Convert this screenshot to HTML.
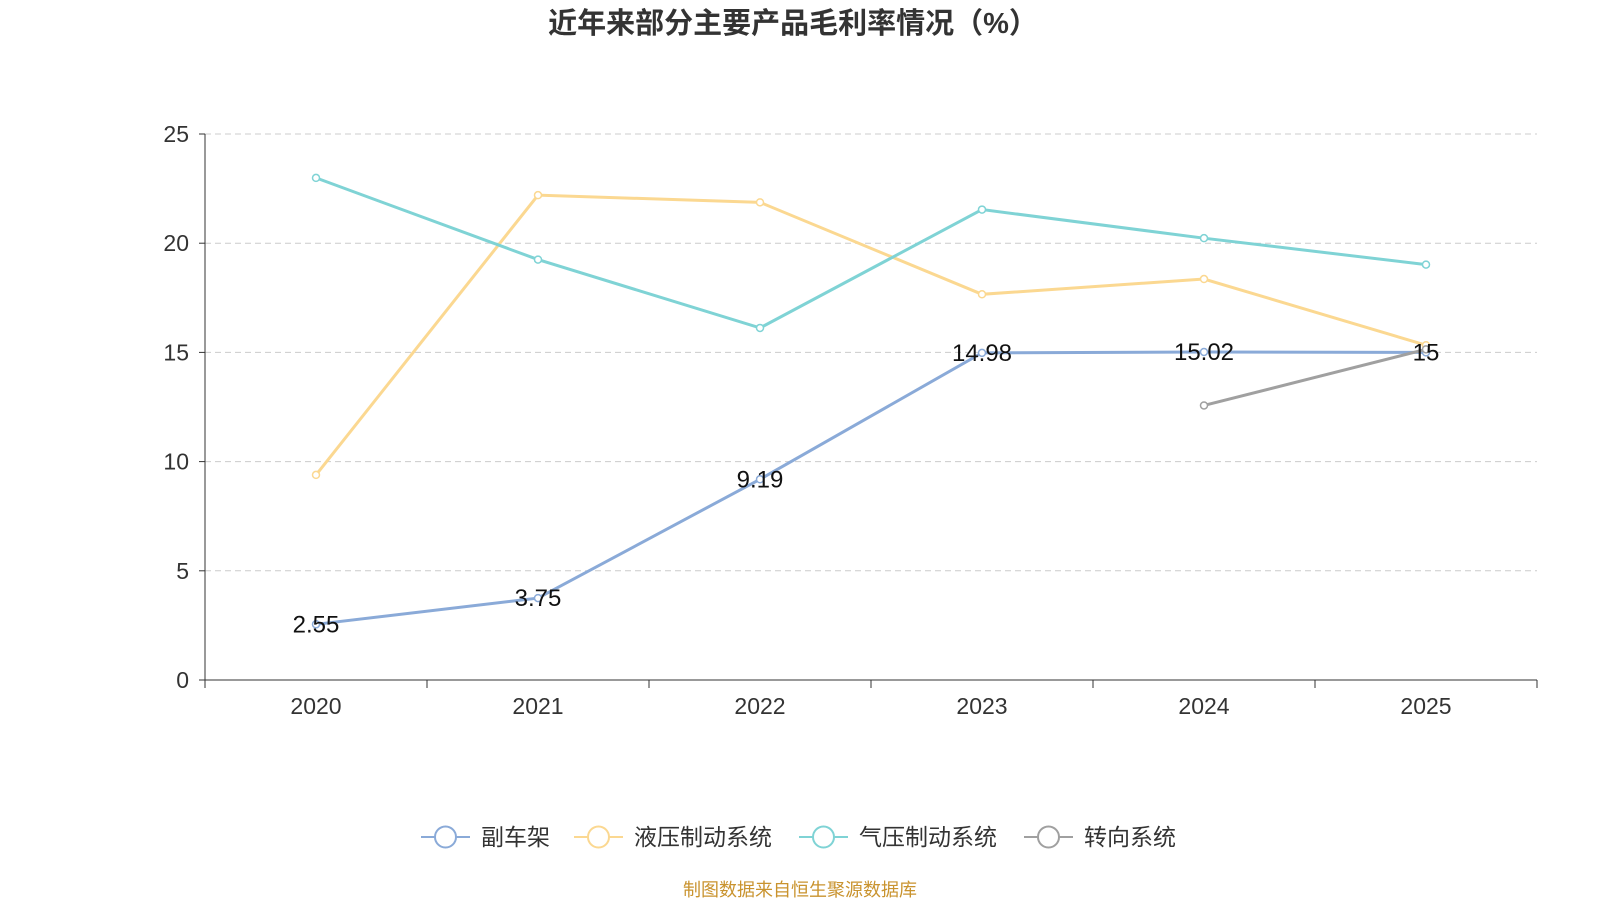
<!DOCTYPE html>
<html><head><meta charset="utf-8"><style>
body{margin:0;background:#fff;width:1600px;height:900px;overflow:hidden;font-family:"Liberation Sans","Noto Sans CJK SC",sans-serif}
</style></head><body>
<svg id="chart" width="1600" height="900" xmlns="http://www.w3.org/2000/svg" font-family="Liberation Sans, Noto Sans CJK SC, sans-serif">
<text x="793" y="33" text-anchor="middle" font-size="29" font-weight="bold" fill="#333">近年来部分主要产品毛利率情况（%）</text>
<g id="grid"></g><g id="axes"></g><g id="series"></g><g id="legend"></g>
<text x="800" y="896" text-anchor="middle" font-size="18" fill="#c9932e">制图数据来自恒生聚源数据库</text>
</svg>
<script>
const categories=["2020","2021","2022","2023","2024","2025"];
const yTicks=[0,5,10,15,20,25];
const names=["副车架","液压制动系统","气压制动系统","转向系统"];
const colors=["#8aaad8","#fbd891","#7fd3d5","#a0a0a0"];
const s1=[2.55,3.75,9.19,14.98,15.02,15];
const s2=[9.39,22.2,21.87,17.66,18.36,15.33];
const s3=[22.99,19.25,16.12,21.54,20.23,19.02];
const s4=[null,null,null,null,12.57,15.14];
const labels1=["2.55","3.75","9.19","14.98","15.02","15"];
const NS="http://www.w3.org/2000/svg";
const L=205,R=1537,T=134,B=680;
const step=(R-L)/categories.length;
const x=i=>L+step*(i+0.5);
const y=v=>B-(v/25)*(B-T);
function mk(tag,at,parent){const e=document.createElementNS(NS,tag);for(const k in at)e.setAttribute(k,at[k]);document.getElementById(parent).appendChild(e);return e;}
yTicks.forEach(t=>{
 if(t>0){const g=mk("line",{x1:L,x2:R,y1:y(t),y2:y(t),stroke:"#ccc","stroke-dasharray":"6,4"},"grid");
 
 }
 const tl=mk("text",{x:L-16,y:y(t)+8,"text-anchor":"end","font-size":23,fill:"#333"},"axes");tl.textContent=t;
 
 
 mk("line",{x1:L-6,x2:L,y1:y(t),y2:y(t),stroke:"#333"},"axes");
});
mk("line",{x1:L,x2:L,y1:T,y2:B,stroke:"#333"},"axes");
mk("line",{x1:L,x2:R,y1:B,y2:B,stroke:"#333"},"axes");
for(let i=0;i<=categories.length;i++)mk("line",{x1:L+step*i,x2:L+step*i,y1:B,y2:B+8,stroke:"#333"},"axes");
categories.forEach((c,i)=>{const t=mk("text",{x:x(i),y:B+34,"text-anchor":"middle","font-size":23,fill:"#333"},"axes");t.textContent=c;
 
 });
const all=[s1,s2,s3,s4];
all.forEach((s,k)=>{
 const pts=[];s.forEach((v,i)=>{if(v!=null)pts.push([x(i),y(v)]);});
 const p=mk("polyline",{points:pts.map(q=>q.join(",")).join(" "),fill:"none",stroke:colors[k],"stroke-width":3},"series");
 
 
 pts.forEach(q=>{const c=mk("circle",{cx:q[0],cy:q[1],r:3.5,fill:"#fff",stroke:colors[k],"stroke-width":1.5},"series");
 
 });
});
s1.forEach((v,i)=>{const t=mk("text",{x:x(i),y:y(v)+8,"text-anchor":"middle","font-size":24,fill:"#111"},"series");t.textContent=labels1[i];
 
 });
const lx=[421,574,799,1024];
names.forEach((n,k)=>{
 const g=mk("g",{},"legend");
 
 
 const a=document.createElementNS(NS,"line");a.setAttribute("x1",lx[k]);a.setAttribute("x2",lx[k]+49);a.setAttribute("y1",837);a.setAttribute("y2",837);a.setAttribute("stroke",colors[k]);a.setAttribute("stroke-width",2);g.appendChild(a);
 const c=document.createElementNS(NS,"circle");c.setAttribute("cx",lx[k]+24.5);c.setAttribute("cy",837);c.setAttribute("r",10.5);c.setAttribute("fill","#fff");c.setAttribute("stroke",colors[k]);c.setAttribute("stroke-width",2);g.appendChild(c);
 const t=document.createElementNS(NS,"text");t.setAttribute("x",lx[k]+60);t.setAttribute("y",845);t.setAttribute("font-size",23);t.setAttribute("fill","#333");t.textContent=n;g.appendChild(t);
});
</script>
</body></html>
